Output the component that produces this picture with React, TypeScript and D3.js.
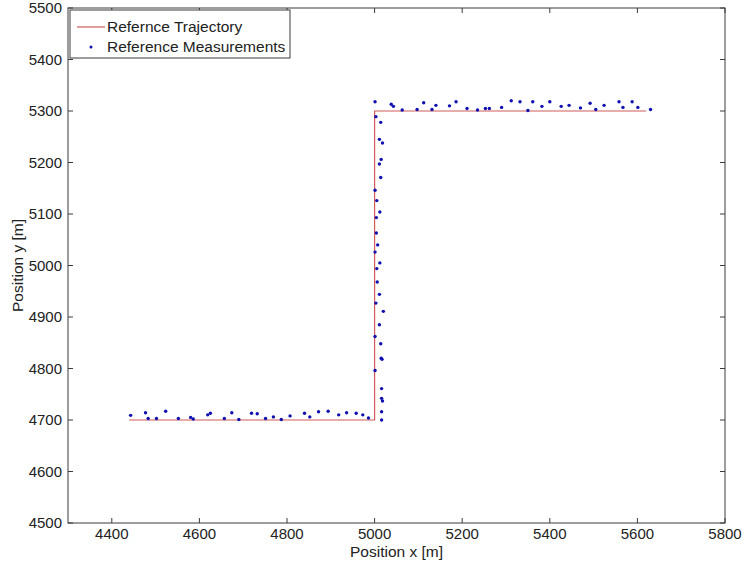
import React from 'react';
import * as d3 from 'd3';

// trajectory corners
const trajX = [4440, 5000, 5000, 5620];
const trajY = [4700, 4700, 5300, 5300];

const measX = [
  4443, 4477, 4483, 4502, 4523, 4552, 4580, 4586, 4619, 4625, 4657, 4674, 4690, 4719, 4732, 4751, 4769, 4787,
  4807, 4840, 4852, 4872, 4894, 4918, 4936, 4958, 4973, 4986,
  5016, 5016, 5018, 5016, 5016, 5001, 5017, 5015, 5014, 5001, 5011, 5020, 5003, 5011, 5006, 5005, 5012,
  5001, 5007, 5004, 5004, 5012, 5005, 5001, 5014, 5011, 5015, 5018, 5011, 5014, 5003,
  5001, 5038, 5043, 5063, 5097, 5112, 5131, 5140, 5171, 5186, 5211, 5235, 5253, 5262, 5290, 5312, 5332, 5350,
  5361, 5382, 5400, 5426, 5444, 5470, 5492, 5505, 5524, 5558, 5567, 5588, 5601, 5630,
];
const measY = [
  4709, 4714, 4703, 4703, 4717, 4703, 4705, 4702, 4710, 4713, 4703, 4714, 4701, 4713, 4712, 4703, 4706, 4701,
  4708, 4713, 4706, 4716, 4717, 4710, 4714, 4713, 4710, 4704,
  4700, 4716, 4737, 4742, 4761, 4796, 4818, 4820, 4848, 4862, 4885, 4911, 4927, 4944, 4968, 4994, 5005,
  5026, 5040, 5063, 5093, 5104, 5126, 5146, 5171, 5197, 5206, 5238, 5245, 5278, 5289,
  5318, 5313, 5309, 5302, 5303, 5316, 5303, 5311, 5310, 5318, 5305, 5302, 5305, 5305, 5307, 5320, 5318, 5301,
  5318, 5309, 5318, 5309, 5311, 5306, 5315, 5303, 5311, 5318, 5307, 5318, 5307, 5303,
];

const xTicks = [4400, 4600, 4800, 5000, 5200, 5400, 5600, 5800];
const yTicks = [4500, 4600, 4700, 4800, 4900, 5000, 5100, 5200, 5300, 5400, 5500];

const W = 742;
const H = 563;
const left = 68, right = 725, top = 8, bottom = 523;
const font = 'Liberation Sans, Arial, sans-serif';

export default function App() {
  const x = d3.scaleLinear().domain([4300, 5800]).range([left, right]);
  const y = d3.scaleLinear().domain([4500, 5500]).range([bottom, top]);
  const line = d3.line<number>().x((d, i) => x(trajX[i])).y((d, i) => y(trajY[i]));
  const tick = 5;
  const axisColor = '#3a3a3a';

  return (
    <div style={{ position: 'absolute', left: 0, top: 0 }}>
      <svg width={W} height={H} style={{ display: 'block', background: '#fff' }} fontFamily={font}>
        <rect x={left} y={top} width={right - left} height={bottom - top} fill="#fff" stroke={axisColor} strokeWidth={1} />
        {xTicks.map(t => (
          <g key={'x' + t}>
            <line x1={x(t)} x2={x(t)} y1={bottom} y2={bottom - tick} stroke={axisColor} />
            <line x1={x(t)} x2={x(t)} y1={top} y2={top + tick} stroke={axisColor} />
            <text x={x(t)} y={539} textAnchor="middle" fontSize={15} fill="#222">{t}</text>
          </g>
        ))}
        {yTicks.map(t => (
          <g key={'y' + t}>
            <line x1={left} x2={left + tick} y1={y(t)} y2={y(t)} stroke={axisColor} />
            <line x1={right} x2={right - tick} y1={y(t)} y2={y(t)} stroke={axisColor} />
            <text x={62} y={y(t)} dy="0.35em" textAnchor="end" fontSize={15} fill="#222">{t}</text>
          </g>
        ))}
        <path d={line(trajX) || ''} fill="none" stroke="#d05a5a" strokeWidth={1.2} />
        {measX.map((mx, i) => (
          <circle key={i} cx={x(mx)} cy={y(measY[i])} r={1.7} fill="#1010b0" />
        ))}
        <text x={(left + right) / 2} y={557} textAnchor="middle" fontSize={15.5} fill="#222">Position x [m]</text>
        <text transform={`translate(23,${(top + bottom) / 2}) rotate(-90)`} textAnchor="middle" fontSize={15.5} fill="#222">Position y [m]</text>
        <g>
          <rect x={70} y={10} width={220} height={48} fill="#fff" stroke={axisColor} />
          <line x1={77} x2={105} y1={27} y2={27} stroke="#d05a5a" strokeWidth={1.2} />
          <text x={107} y={27} dy="0.35em" fontSize={15.5} fill="#222">Refernce Trajectory</text>
          <circle cx={91} cy={47} r={1.5} fill="#1010b0" />
          <text x={107} y={47} dy="0.35em" fontSize={15.5} fill="#222">Reference Measurements</text>
        </g>
      </svg>
    </div>
  );
}
